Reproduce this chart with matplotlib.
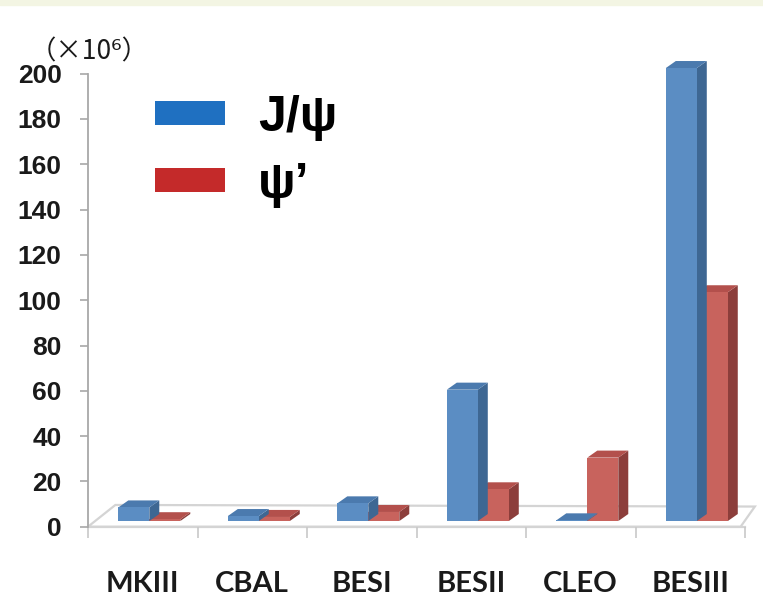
import matplotlib.pyplot as plt
from matplotlib.patches import Polygon, Patch, Rectangle
import numpy as np

# event samples per experiment, in units of 10^6
experiments = ['MKIII', 'CBAL', 'BESI', 'BESII', 'CLEO', 'BESIII']
jpsi = [6.0, 2.2, 7.8, 58.0, 0.3, 200.0]
psip = [0.8, 1.8, 4.0, 14.0, 28.0, 101.0]
yticks = [0, 20, 40, 60, 80, 100, 120, 140, 160, 180, 200]

# colours (front, side, top)
blue = ('#5b8dc3', '#3e6793', '#4b7aae')
red = ('#c8635d', '#8c3e3b', '#b3504c')
legend_blue = '#1f70c1'
legend_red = '#c42a2a'

W, H = 763, 599
fig = plt.figure(figsize=(W / 100, H / 100), dpi=100)
fig.patch.set_facecolor('white')
fig.patches.append(Rectangle((0, 1 - 5 / H), 1, 5 / H, transform=fig.transFigure,
                             color='#f3f5e3', zorder=0))

ax = fig.add_axes([88 / W, (H - 526.7) / H, (745 - 88) / W, (526.7 - 73.7) / H])
ax.set_xlim(-0.5, len(experiments) - 0.5)
ax.set_ylim(0, 200)

# fake 3-D parameters (data units)
dx, dy = 0.091, 3.1
lift = 2.5
w = 0.283
shift = 0.06

# floor
floor = Polygon([(-0.5, 0), (5.46, 0), (5.59, 8.9), (-0.25, 9.6)], closed=True,
                facecolor='white', edgecolor='#d4d4d4', lw=1.6, zorder=1, clip_on=False)
ax.add_patch(floor)

x = np.arange(len(experiments))


def draw_3d(xs, vals, cols, z):
    bars = ax.bar(xs, vals, width=w, bottom=lift, color=cols[0], zorder=z,
                  clip_on=False, linewidth=0)
    for b in bars:
        x0 = b.get_x()
        x1 = x0 + b.get_width()
        y0 = b.get_y()
        y1 = y0 + b.get_height()
        side = Polygon([(x1, y0), (x1 + dx, y0 + dy), (x1 + dx, y1 + dy), (x1, y1)],
                       closed=True, facecolor=cols[1], lw=0, zorder=z - 0.5, clip_on=False)
        top = Polygon([(x0, y1), (x1, y1), (x1 + dx, y1 + dy), (x0 + dx, y1 + dy)],
                      closed=True, facecolor=cols[2], lw=0, zorder=z - 0.5, clip_on=False)
        ax.add_patch(side)
        ax.add_patch(top)
    return bars


draw_3d(x + shift + w / 2, psip, red, 3)
draw_3d(x + shift - w / 2, jpsi, blue, 5)

# axes styling
for s in ['top', 'right', 'bottom']:
    ax.spines[s].set_visible(False)
ax.spines['left'].set_color('#a8a8a8')
ax.spines['left'].set_linewidth(1.3)

ax.set_yticks(yticks)
ax.set_yticklabels([str(v) for v in yticks], fontsize=19, fontweight='bold',
                   family='Liberation Sans', color='#1a1a1a')
ax.tick_params(axis='y', direction='out', length=6, width=1.2, color='#a8a8a8', pad=13)

# category boundaries as ticks, names on minor ticks
ax.set_xticks(np.arange(-0.5, len(experiments), 1.0))
ax.set_xticklabels([])
ax.tick_params(axis='x', which='major', direction='out', length=8, width=1.2,
               color='#c8c8c8')
ax.set_xticks(x, minor=True)
ax.set_xticklabels(experiments, minor=True, fontsize=21, family='Lato',
                   fontweight='bold', color='#1a1a1a')
ax.tick_params(axis='x', which='minor', length=0, pad=32)
ax.axhline(0, color='#d4d4d4', lw=1.6, zorder=1, clip_on=False)

fig.text(30 / W, 1 - 52 / H, '（×10⁶）', fontsize=19, va='center', ha='left',
         family=['Noto Sans CJK SC', 'DejaVu Sans'], color='#1a1a1a')

handles = [Patch(facecolor=legend_blue), Patch(facecolor=legend_red)]
leg = fig.legend(handles, ['J/ψ', 'ψ’'], loc='upper left',
                 bbox_to_anchor=(110 / W, 1 - 50 / H), frameon=False,
                 prop={'family': 'Liberation Sans', 'weight': 'bold', 'size': 36},
                 handlelength=1.4, handleheight=0.34, handletextpad=0.66,
                 labelspacing=0.42)

plt.savefig('out.png', dpi=100)
